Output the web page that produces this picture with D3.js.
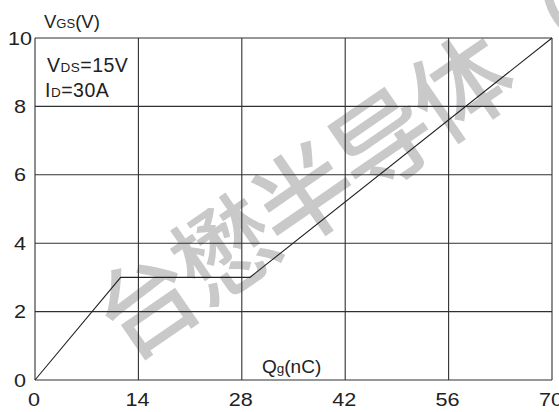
<!DOCTYPE html>
<html>
<head>
<meta charset="utf-8">
<script src="https://cdn.jsdelivr.net/npm/d3@7/dist/d3.min.js"></script>
<style>
  html, body { margin: 0; padding: 0; background: #fff; }
  svg { display: block; }
  text { font-family: "Liberation Sans", Arial, sans-serif; fill: #222; }
</style>
</head>
<body>
<script>
// Gate charge characteristic: VGS vs Qg
const qTicks = [0, 14, 28, 42, 56, 70];
const vTicks = [0, 2, 4, 6, 8, 10];
const curveQ = [0, 11.6, 29.1, 70];
const curveV = [0, 3.0, 3.0, 10];
const watermarkChars = ["台", "懋", "半", "导", "体", "（"];

const W = 559, H = 412;
const margin = { left: 35, right: 7, top: 38, bottom: 32 };

const svg = d3.select("body").append("svg")
  .attr("width", W).attr("height", H);

const x = d3.scaleLinear().domain([0, 70]).range([margin.left, W - margin.right]);
const y = d3.scaleLinear().domain([0, 10]).range([H - margin.bottom, margin.top]);

// watermark beneath the grid
const wm = svg.append("g").attr("class", "watermark");
const wmStart = [143, 299], wmStep = 95.6, wmAngle = -34.6;
const rad = wmAngle * Math.PI / 180;
watermarkChars.forEach((c, i) => {
  const cx = wmStart[0] + i * wmStep * Math.cos(rad);
  const cy = wmStart[1] + i * wmStep * Math.sin(rad);
  wm.append("text")
    .attr("transform", `translate(${cx},${cy}) rotate(${wmAngle})`)
    .attr("text-anchor", "middle")
    .attr("dominant-baseline", "central")
    .style("font-family", "'Noto Sans CJK SC', sans-serif")
    .style("font-size", "100px")
    .style("font-weight", "500")
    .style("fill", "#c9c9c9")
    .text(c);
});

// grid
const grid = svg.append("g").attr("stroke", "#2e3033").attr("stroke-width", 1.1).attr("fill", "none");
qTicks.forEach(q => {
  grid.append("line")
    .attr("x1", x(q)).attr("x2", x(q))
    .attr("y1", y(0)).attr("y2", y(10));
});
vTicks.forEach(v => {
  grid.append("line")
    .attr("x1", x(0)).attr("x2", x(70))
    .attr("y1", y(v)).attr("y2", y(v));
});

// curve
const pts = curveQ.map((q, i) => [q, curveV[i]]);
svg.append("path")
  .datum(pts)
  .attr("fill", "none")
  .attr("stroke", "#222")
  .attr("stroke-width", 1.1)
  .attr("d", d3.line().x(d => x(d[0])).y(d => y(d[1])));

// tick labels (slightly wide lettering)
const stretch = 1.2;
svg.append("g").selectAll("text").data(qTicks).join("text")
  .attr("transform", d => `translate(${x(d) - 1},${H - 6}) scale(${stretch},1)`)
  .attr("text-anchor", "middle")
  .style("font-size", "18px")
  .text(d => d);

svg.append("g").selectAll("text").data(vTicks).join("text")
  .attr("transform", d => `translate(20,${y(d) + 6.5}) scale(${stretch},1)`)
  .attr("text-anchor", "middle")
  .style("font-size", "18px")
  .text(d => d);

// axis titles
const yTitle = svg.append("text").attr("x", 44).attr("y", 28).style("font-size", "18.5px");
yTitle.append("tspan").text("V");
yTitle.append("tspan").style("font-size", "13px").text("GS");
yTitle.append("tspan").text("(V)");

const xTitle = svg.append("text").attr("x", 262).attr("y", 373).style("font-size", "19px");
xTitle.append("tspan").text("Q");
xTitle.append("tspan").style("font-size", "13.5px").text("g");
xTitle.append("tspan").text("(nC)");

// test conditions
const c1 = svg.append("text").attr("x", 47).attr("y", 71.5)
  .style("font-size", "19.5px").style("letter-spacing", "0.5px");
c1.append("tspan").text("V");
c1.append("tspan").style("font-size", "13.5px").text("DS");
c1.append("tspan").text("=15V");
const c2 = svg.append("text").attr("x", 45).attr("y", 96.5)
  .style("font-size", "19.5px").style("letter-spacing", "0.5px");
c2.append("tspan").text("I");
c2.append("tspan").style("font-size", "13.5px").text("D");
c2.append("tspan").text("=30A");
</script>
</body>
</html>
